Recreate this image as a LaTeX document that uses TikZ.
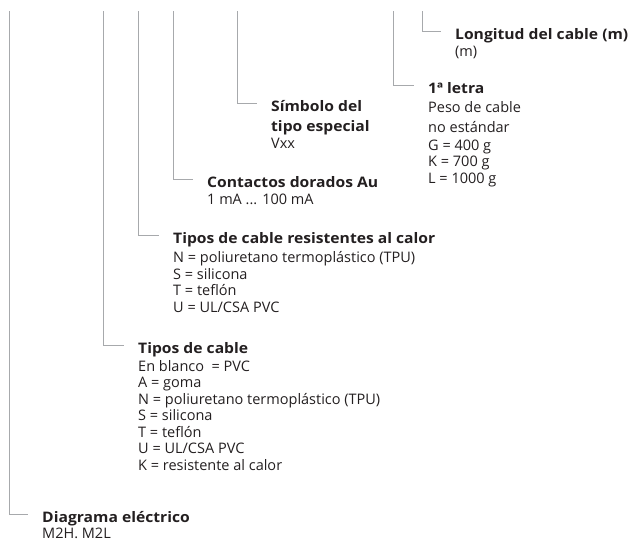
\documentclass[tikz,border=0pt]{standalone}
\usepackage{fontspec}
\setmainfont{Open Sans}[BoldFeatures={FakeStretch=1.08}]
\usetikzlibrary{positioning}

\definecolor{leadgray}{HTML}{A7A9AC}
\definecolor{inkblack}{HTML}{231F20}

% first line of a block: strut of 13pt, bold
\newcommand{\hd}[1]{\rule{0pt}{13pt}\textbf{#1}}

\tikzset{
  lead/.style={draw=leadgray, line width=0.8pt},
  block/.style={anchor=north west, inner sep=0pt, align=left, text=inkblack,
    font=\fontsize{14.5}{16.5}\selectfont},
}

\begin{document}
\begin{tikzpicture}[x=1pt,y=-1pt]
    \useasboundingbox (0,0) rectangle (632,541);
    % upper ends of the leads
    \coordinate (tDiag) at (9,11);
    \coordinate (tType) at (103,11);
    \coordinate (tHeat) at (138,11);
    \coordinate (tCont) at (173,11);
    \coordinate (tSimb) at (237,11);
    \coordinate (tLetra) at (393,11);
    \coordinate (tLong) at (422,11);

    \node [block] (long) at (455,26) {\hd{Longitud del cable (m)}\\[0.5pt]
      (m)};
    \node [block] (letra) at (428,80) {\hd{1ª letra}\\[2.5pt]
      Peso de cable\\[3.5pt]
      no estándar\\[1.5pt]
      G = 400 g\\
      K = 700 g\\
      L = 1000 g};
    \node [block] (simb) at (271,98) {\hd{Símbolo del}\\[3.5pt]
      \textbf{tipo especial}\\[0.5pt]
      Vxx};
    \node [block] (cont) at (207,174) {\hd{Contactos dorados Au}\\[0.5pt]
      1 mA ... 100 mA};
    \node [block] (heat) at (173,230) {\hd{Tipos de cable resistentes al calor}\\[3pt]
      N = poliuretano termoplástico (TPU)\\
      S = silicona\\
      T = teflón\\
      U = UL/CSA PVC};
    \node [block] (type) at (138,340) {\hd{Tipos de cable}\\[1.5pt]
      En blanco\ \ = PVC\\
      A = goma\\
      N = poliuretano termoplástico (TPU)\\
      S = silicona\\
      T = teflón\\
      U = UL/CSA PVC\\
      K = resistente al calor};
    \node [block] (diag) at (42,509) {\hd{Diagrama eléctrico}\\
      M2H. M2L};

    \draw [lead] (tDiag) |- ([xshift=-14pt,yshift=-5pt]diag.north west);
    \draw [lead] (tType) |- ([xshift=-14pt,yshift=-5pt]type.north west);
    \draw [lead] (tHeat) |- ([xshift=-14pt,yshift=-5pt]heat.north west);
    \draw [lead] (tCont) |- ([xshift=-14pt,yshift=-5pt]cont.north west);
    \draw [lead] (tSimb) |- ([xshift=-14pt,yshift=-5pt]simb.north west);
    \draw [lead] (tLetra) |- ([xshift=-14pt,yshift=-5pt]letra.north west);
    \draw [lead] (tLong) |- ([xshift=-14pt,yshift=-5pt]long.north west);
\end{tikzpicture}
\end{document}
